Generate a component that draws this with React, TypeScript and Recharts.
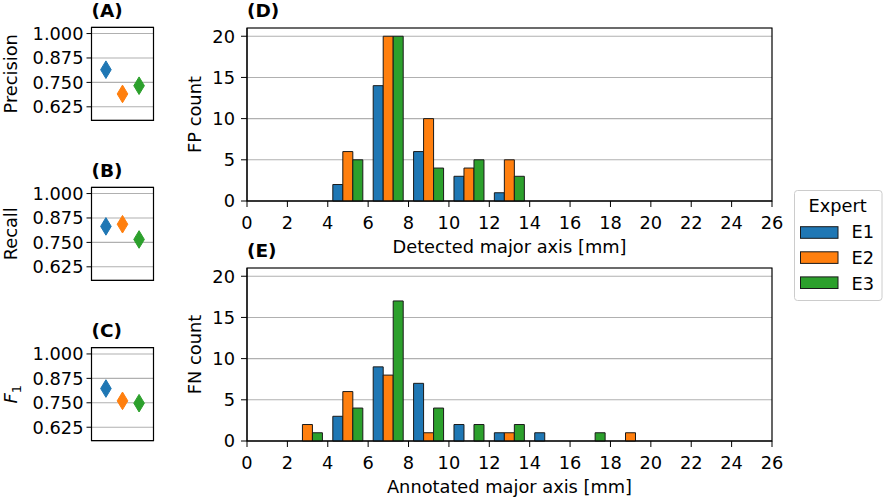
import React from 'react';
import {
  BarChart,
  Bar,
  XAxis,
  YAxis,
  CartesianGrid,
  ReferenceArea,
  ScatterChart,
  Scatter,
  Legend,
} from 'recharts';

// ---------- data ----------
const experts = ['E1', 'E2', 'E3'];
const colors = ['#1f77b4', '#ff7f0e', '#2ca02c'];

const binCenters = [1, 3, 5, 7, 9, 11, 13, 15, 17, 19, 21, 23, 25];
const fpE1 = [0, 0, 2, 14, 6, 3, 1, 0, 0, 0, 0, 0, 0];
const fpE2 = [0, 0, 6, 20, 10, 4, 5, 0, 0, 0, 0, 0, 0];
const fpE3 = [0, 0, 5, 20, 4, 5, 3, 0, 0, 0, 0, 0, 0];
const fnE1 = [0, 0, 3, 9, 7, 2, 1, 1, 0, 0, 0, 0, 0];
const fnE2 = [0, 2, 6, 8, 1, 0, 1, 0, 0, 1, 0, 0, 0];
const fnE3 = [0, 1, 4, 17, 4, 2, 2, 0, 1, 0, 0, 0, 0];

const xTicks = [0, 2, 4, 6, 8, 10, 12, 14, 16, 18, 20, 22, 24, 26];
const countTicks = [0, 5, 10, 15, 20];

const precision = [0.815, 0.691, 0.733];
const recall = [0.832, 0.843, 0.765];
const f1 = [0.823, 0.76, 0.748];
const scoreTicks = [0.625, 0.75, 0.875, 1.0];

const fpData = binCenters.map((x, i) => ({ x, E1: fpE1[i], E2: fpE2[i], E3: fpE3[i] }));
const fnData = binCenters.map((x, i) => ({ x, E1: fnE1[i], E2: fnE2[i], E3: fnE3[i] }));

// ---------- styles ----------
const FONT = 'DejaVu Sans, Verdana, sans-serif';
const FS = 17.8;
const TITLE_FS = 18.5;
const tickStyle = { fill: '#000', fontSize: FS, fontFamily: FONT };

const LegendContent = (props: any) => {
  const payload = props.payload || [];
  return (
    <svg width={89} height={112} style={{ display: 'block', fontFamily: FONT }}>
      <rect x={0.5} y={0.5} width={87.5} height={110} rx={3} ry={3} fill="#fff" fillOpacity={0.8} stroke="#cccccc" strokeWidth={1} />
      <text x={43.7} y={21.7} textAnchor="middle" fontSize={FS} fill="#000">Expert</text>
      {payload.map((entry: any, i: number) => (
        <g key={String(entry.value)}>
          <rect x={6.5} y={36.7 + i * 25.1} width={37.5} height={11.6} fill={colors[i]} stroke="#1a1a1a" strokeWidth={1} />
          <text x={57.5} y={48.3 + i * 25.6} fontSize={FS} fill="#000">{entry.value}</text>
        </g>
      ))}
    </svg>
  );
};

type HistProps = {
  data: any[];
  top: number;
  title: string;
  yLabel: string;
  xLabel: string;
  legend?: boolean;
};

function Hist({ data, top, title, yLabel, xLabel, legend }: HistProps) {
  return (
    <div style={{ position: 'absolute', left: 0, top, width: 886, height: 260 }}>
      <BarChart
        width={886}
        height={260}
        data={data}
        margin={{ top: 28, right: 114, bottom: 0, left: 0 }}
        barCategoryGap="12.5%"
        barGap={0}
      >
        <CartesianGrid vertical={false} stroke="#b0b0b0" strokeWidth={1.1} />
        <XAxis
          dataKey="x"
          type="number"
          domain={[0, 26]}
          ticks={xTicks}
          interval={0}
          allowDataOverflow
          height={59}
          tickSize={6}
          tickMargin={9}
          tick={tickStyle}
          tickLine={{ stroke: '#000' }}
          axisLine={{ stroke: '#000' }}
        />
        <YAxis
          type="number"
          domain={[0, 21]}
          ticks={countTicks}
          interval={0}
          width={247}
          tickSize={6}
          tickMargin={6}
          tick={tickStyle}
          tickLine={{ stroke: '#000' }}
          axisLine={{ stroke: '#000' }}
        />
        {experts.map((e, i) => (
          <Bar
            key={e}
            dataKey={e}
            name={e}
            fill={colors[i]}
            stroke="#1a1a1a"
            strokeWidth={1}
            isAnimationActive={false}
          />
        ))}
        <ReferenceArea x1={0} x2={26} y1={0} y2={21} fill="none" fillOpacity={0} stroke="#000" strokeWidth={1.2} ifOverflow="visible" />
        {legend && (
          <Legend
            layout="vertical"
            align="center"
            verticalAlign="middle"
            content={LegendContent}
            wrapperStyle={{ position: 'absolute', left: 794, top: 190, width: 89, height: 112 }}
          />
        )}
        <text x={247} y={17} fontSize={TITLE_FS} fontWeight="bold" fontFamily={FONT} fill="#000">{title}</text>
        <text transform="translate(200.5,114.5) rotate(-90)" textAnchor="middle" fontSize={FS} fontFamily={FONT} fill="#000">{yLabel}</text>
        <text x={509.5} y={252.5} textAnchor="middle" fontSize={FS} fontFamily={FONT} fill="#000">{xLabel}</text>
      </BarChart>
    </div>
  );
}

const Diamond = (props: any) => {
  const { cx, cy, fill } = props;
  if (cx == null || cy == null) return null;
  const hw = 5.3;
  const hh = 8.8;
  return (
    <polygon
      points={`${cx},${cy - hh} ${cx + hw},${cy} ${cx},${cy + hh} ${cx - hw},${cy}`}
      fill={fill}
      stroke={fill}
      strokeWidth={1}
    />
  );
};

type ScoreProps = {
  values: number[];
  top: number;
  marginTop: number;
  title: string;
  label: React.ReactNode;
};

function Score({ values, top, marginTop, title, label }: ScoreProps) {
  const plotH = 93;
  return (
    <div style={{ position: 'absolute', left: 0, top, width: 160, height: 130 }}>
      <ScatterChart
        width={160}
        height={130}
        margin={{ top: marginTop, right: 6.5, bottom: 130 - marginTop - plotH, left: 0 }}
      >
        <CartesianGrid vertical={false} stroke="#b0b0b0" strokeWidth={1.1} />
        <XAxis dataKey="x" type="number" domain={[-0.87, 2.87]} allowDataOverflow hide />
        <YAxis
          dataKey="y"
          type="number"
          domain={[0.556, 1.032]}
          allowDataOverflow
          ticks={scoreTicks}
          interval={0}
          width={91.5}
          tickSize={5}
          tickMargin={3}
          tick={tickStyle}
          tickLine={{ stroke: '#000' }}
          axisLine={{ stroke: '#000' }}
          tickFormatter={(v: number) => v.toFixed(3)}
        />
        {experts.map((e, i) => (
          <Scatter
            key={e}
            name={e}
            data={[{ x: i, y: values[i] }]}
            fill={colors[i]}
            shape={Diamond}
            isAnimationActive={false}
          />
        ))}
        <ReferenceArea x1={-0.87} x2={2.87} y1={0.556} y2={1.032} fill="none" fillOpacity={0} stroke="#000" strokeWidth={1.2} ifOverflow="visible" />
        <text x={91.5} y={marginTop - 10.8} fontSize={TITLE_FS} fontWeight="bold" fontFamily={FONT} fill="#000">{title}</text>
        <text transform={`translate(16.7,${marginTop + plotH / 2}) rotate(-90)`} textAnchor="middle" fontSize={FS} fontFamily={FONT} fill="#000">{label}</text>
      </ScatterChart>
    </div>
  );
}

export default function App() {
  return (
    <div
      style={{
        position: 'absolute',
        left: 0,
        top: 0,
        width: 886,
        height: 500,
        background: '#fff',
        fontFamily: FONT,
        overflow: 'hidden',
      }}
    >
      <Score values={precision} top={0} marginTop={27.3} title="(A)" label="Precision" />
      <Score values={recall} top={160} marginTop={27.3} title="(B)" label="Recall" />
      <Score
        values={f1}
        top={320}
        marginTop={27.7}
        title="(C)"
        label={
          <>
            <tspan fontStyle="italic">F</tspan>
            <tspan dy={4} fontSize={13}>1</tspan>
          </>
        }
      />
      <Hist data={fnData} top={240} title="(E)" yLabel="FN count" xLabel="Annotated major axis [mm]" />
      <Hist data={fpData} top={0} title="(D)" yLabel="FP count" xLabel="Detected major axis [mm]" legend />
    </div>
  );
}
